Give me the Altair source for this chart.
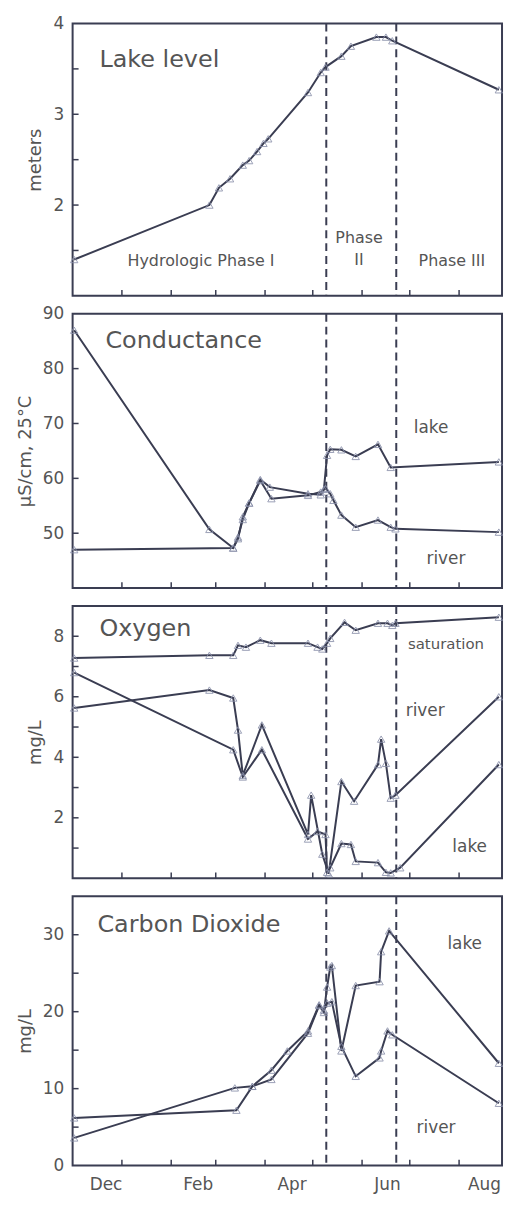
import altair as alt
import pandas as pd

FONT = "DejaVu Sans"
LINE = "#3a3d52"
MARK = "#8a90aa"
TEXT = "#555555"

# x = days since 1 December
X_DOMAIN = [0, 270]
MONTH_TICKS = [31, 62, 90, 121, 151, 182, 212, 243]
MONTH_LABELS = ["Dec", "Feb", "Apr", "Jun", "Aug"]
MONTH_LABEL_DAYS = [21, 79, 138, 198, 259]
PHASE_DAYS = [159.5, 203.5]

# Lake level (m)
LEVEL_DAYS = [1, 86, 92, 99, 107, 111, 116, 120, 123, 148, 156, 159, 169, 175, 191, 197, 201, 268]
LEVEL_M = [1.40, 2.00, 2.19, 2.29, 2.44, 2.49, 2.59, 2.68, 2.73, 3.24, 3.46, 3.52, 3.64, 3.75, 3.85, 3.85, 3.81, 3.27]

# Conductance (uS/cm)
COND_LAKE_DAYS = [1, 86, 101, 104, 107, 111, 118, 124, 148, 156, 158, 160, 162, 169, 178, 192, 200, 268]
COND_LAKE = [87.0, 50.7, 47.3, 49.3, 52.5, 55.5, 59.8, 58.4, 57.2, 57.0, 58.0, 64.2, 65.3, 65.2, 64.0, 66.2, 62.0, 63.0]
COND_RIVER_DAYS = [1, 101, 104, 107, 111, 118, 125, 148, 156, 159, 162, 164, 169, 178, 192, 200, 203, 268]
COND_RIVER = [47.0, 47.3, 49.0, 53.0, 55.5, 59.6, 56.3, 56.9, 57.5, 58.2, 57.2, 56.0, 53.3, 51.1, 52.4, 51.1, 50.8, 50.2]

# Oxygen (mg/L)
SAT_DAYS = [1, 86, 101, 104, 109, 118, 125, 148, 154, 157, 160, 162, 171, 178, 192, 198, 201, 203, 268]
SAT = [7.28, 7.37, 7.37, 7.70, 7.64, 7.87, 7.77, 7.77, 7.64, 7.58, 7.77, 7.93, 8.46, 8.20, 8.43, 8.43, 8.36, 8.43, 8.63]
O2_RIVER_DAYS = [1, 86, 101, 104, 107, 119, 148, 150, 157, 161, 169, 177, 192, 194, 197, 200, 203, 268]
O2_RIVER = [5.63, 6.22, 5.96, 4.9, 3.4, 5.07, 1.45, 2.75, 0.8, 0.15, 3.2, 2.55, 3.76, 4.6, 3.8, 2.65, 2.75, 6.0]
O2_LAKE_DAYS = [1, 101, 107, 119, 148, 154, 159, 160, 162, 169, 175, 178, 192, 197, 200, 206, 268]
O2_LAKE = [6.8, 4.25, 3.35, 4.25, 1.3, 1.55, 1.45, 0.2, 0.35, 1.15, 1.12, 0.56, 0.52, 0.2, 0.18, 0.35, 3.76]

# Carbon dioxide (mg/L)
CO2_LAKE_DAYS = [1, 103, 113, 125, 148, 155, 158, 160, 162, 163, 169, 178, 193, 194, 199, 268]
CO2_LAKE = [6.2, 7.2, 10.3, 11.2, 17.2, 20.8, 19.9, 23.2, 25.8, 26.0, 14.9, 23.4, 23.9, 27.8, 30.5, 13.3]
CO2_RIVER_DAYS = [1, 102, 113, 125, 135, 148, 155, 158, 160, 163, 169, 178, 193, 194, 198, 201, 268]
CO2_RIVER = [3.6, 10.1, 10.3, 12.4, 14.9, 17.5, 20.9, 20.2, 21.1, 21.3, 15.5, 11.6, 14.0, 14.9, 17.5, 17.0, 8.1]

W = 432
REF_W = 438    # plot width on which the note positions were measured
REF_DAYS = 272  # days spanned by that width


def panel(series, ydom, ylabels, yticks, ytitle, title, title_pos, notes, H, bottom=False):
    xs = alt.Scale(domain=X_DOMAIN, nice=False, zero=False)
    ys = alt.Scale(domain=ydom, nice=False, zero=False)
    yax = alt.Axis(values=ylabels, ticks=False, tickSize=0, domain=False, grid=False,
                   labelFont=FONT, labelFontSize=17, labelColor=TEXT, labelPadding=9,
                   title=ytitle, titleFont=FONT, titleFontSize=18, titleFontWeight="normal",
                   titleColor=TEXT, titlePadding=8)
    X = lambda f: alt.X(f, type="quantitative", scale=xs, axis=None)
    Y = lambda f: alt.Y(f, type="quantitative", scale=ys, axis=yax)

    rows = []
    shapes = {}
    for name, days, vals, shape in series:
        shapes[name] = shape
        for d, v in zip(days, vals):
            rows.append({"day": d, "v": v, "s": name})
    df = pd.DataFrame(rows)

    dash = alt.Chart(pd.DataFrame({"day": PHASE_DAYS})).mark_rule(
        color=LINE, strokeWidth=2, strokeDash=[8, 5]).encode(x=X("day"))
    lines = alt.Chart(df).mark_line(color=LINE, strokeWidth=2).encode(
        x=X("day"), y=Y("v"), detail="s:N")
    pts = alt.Chart(df).mark_point(filled=False, size=55, strokeWidth=1, color=MARK, opacity=0.85).encode(
        x=X("day"), y=Y("v"),
        shape=alt.Shape("s:N", scale=alt.Scale(domain=list(shapes.keys()), range=list(shapes.values())), legend=None))
    ytk = alt.Chart(pd.DataFrame({"v": yticks})).mark_rule(color=LINE, strokeWidth=1.5).encode(
        y=Y("v"), x=alt.value(0), x2=alt.value(6))
    xtk = alt.Chart(pd.DataFrame({"day": MONTH_TICKS})).mark_rule(color=LINE, strokeWidth=1.5).encode(
        x=X("day"), y=alt.value(H), y2=alt.value(H - 6))
    ttl = alt.Chart(pd.DataFrame({"t": [title]})).mark_text(
        align="left", baseline="alphabetic", font=FONT, fontSize=24, color=TEXT).encode(
        text="t:N", x=alt.value(title_pos[0]), y=alt.value(title_pos[1]))

    nrows = []
    for txt, px, py, fs in notes:
        nrows.append({"t": txt, "day": px * REF_DAYS / REF_W,
                      "v": ydom[1] - py * (ydom[1] - ydom[0]) / H, "fs": fs})
    layers = [dash, lines, pts, ytk, xtk, ttl]
    ndf = pd.DataFrame(nrows)
    for fs in sorted(set(ndf["fs"])):
        layers.append(alt.Chart(ndf[ndf["fs"] == fs]).mark_text(
            align="center", baseline="middle", font=FONT, fontSize=fs, color=TEXT).encode(
            text="t:N", x=X("day"), y=Y("v")))
    if bottom:
        mdf = pd.DataFrame({"day": MONTH_LABEL_DAYS, "t": MONTH_LABELS})
        layers.append(alt.Chart(mdf).mark_text(
            align="center", baseline="middle", font=FONT, fontSize=17, color=TEXT).encode(
            text="t:N", x=X("day"), y=alt.value(H + 20)))
    return alt.layer(*layers).properties(width=W, height=H)


p1 = panel([("lake", LEVEL_DAYS, LEVEL_M, "triangle-up")], [1, 4], [2, 3, 4], [1.5, 2, 2.5, 3, 3.5],
           "meters", "Lake level", (27, 44),
           [("Hydrologic Phase I", 130, 239, 16), ("Phase", 290, 216, 16), ("II", 290, 238, 16),
            ("Phase III", 384, 239, 16)], 274)
p2 = panel([("lake", COND_LAKE_DAYS, COND_LAKE, "triangle-up"), ("river", COND_RIVER_DAYS, COND_RIVER, "circle")],
           [40, 90], [50, 60, 70, 80, 90], [50, 60, 70, 80], "µS/cm, 25°C", "Conductance", (33, 34),
           [("lake", 363, 115, 17), ("river", 378, 247, 17)], 276)
p3 = panel([("sat", SAT_DAYS, SAT, "circle"), ("river", O2_RIVER_DAYS, O2_RIVER, "circle"),
            ("lake", O2_LAKE_DAYS, O2_LAKE, "circle")],
           [0, 9], [2, 4, 6, 8], [1, 2, 3, 4, 5, 6, 7, 8], "mg/L", "Oxygen", (27, 30),
           [("saturation", 378, 38, 15), ("river", 357, 106, 17), ("lake", 402, 242, 17)], 274)
p4 = panel([("lake", CO2_LAKE_DAYS, CO2_LAKE, "triangle-up"), ("river", CO2_RIVER_DAYS, CO2_RIVER, "circle")],
           [0, 35], [0, 10, 20, 30], [5, 10, 15, 20, 25, 30], "mg/L", "Carbon Dioxide", (25, 36),
           [("lake", 397, 48, 17), ("river", 368, 233, 17)], 271, bottom=True)

chart = alt.vconcat(p1, p2, p3, p4, spacing=18, bounds="flush").properties(
    padding={"left": 7, "top": 2, "right": 0, "bottom": 0}
).configure_view(stroke=LINE, strokeWidth=2)

chart.save("out.html", embed_options={"renderer": "svg", "actions": False})
